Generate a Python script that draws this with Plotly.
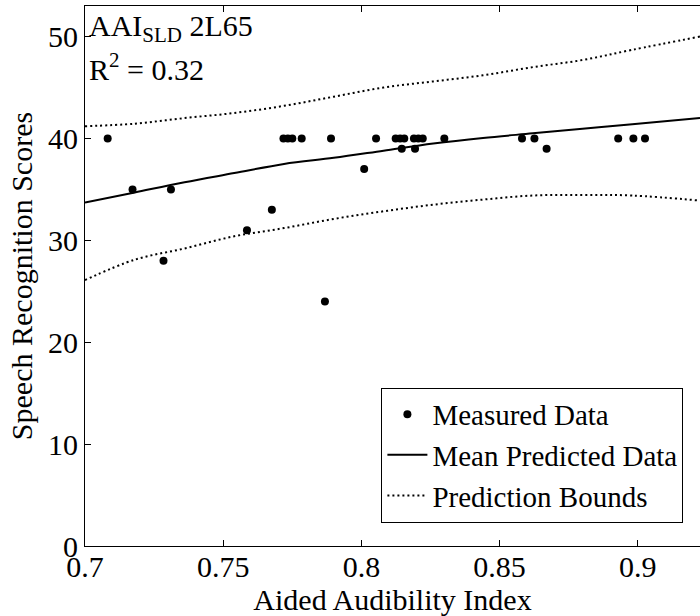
import plotly.graph_objects as go

# Measured speech recognition scores vs aided audibility index
aai = [0.7082, 0.7172, 0.7284, 0.7311, 0.7586, 0.7676,
       0.7718, 0.7734, 0.7750, 0.7784, 0.7868, 0.7890,
       0.8010, 0.8053, 0.8124, 0.8140, 0.8155, 0.8146,
       0.8190, 0.8206, 0.8222, 0.8194, 0.8300, 0.8581,
       0.8626, 0.8670, 0.8929, 0.8984, 0.9026]
scores = [40, 35, 28, 35, 31, 33,
          40, 40, 40, 40, 24, 40,
          37, 40, 40, 40, 40, 39,
          40, 40, 40, 39, 40, 40,
          40, 39, 40, 40, 40]

# Fitted curve and prediction bounds
fit_x = [0.700, 0.718, 0.736, 0.754, 0.772, 0.790, 0.808,
         0.826, 0.844, 0.862, 0.880, 0.898, 0.9225]
fit_mean = [33.7, 34.7, 35.7, 36.6, 37.5, 38.1, 38.8,
            39.5, 40.05, 40.5, 40.95, 41.4, 42.0]
fit_upper = [41.2, 41.45, 42.0, 42.5, 43.2, 44.1, 45.0,
             45.6, 46.2, 47.0, 47.7, 48.7, 50.0]
fit_lower = [26.1, 28.1, 29.2, 30.4, 31.2, 32.1, 32.85,
             33.5, 34.0, 34.4, 34.45, 34.4, 33.9]

x_ticks = [0.7, 0.75, 0.8, 0.85, 0.9]
x_tick_text = ["0.7", "0.75", "0.8", "0.85", "0.9"]
y_ticks = [0, 10, 20, 30, 40, 50]

FONT = "Liberation Serif, Times New Roman, serif"
FS = 30

fig = go.Figure()
fig.add_trace(go.Scatter(
    x=aai, y=scores, mode="markers", name="Measured Data",
    marker=dict(color="black", size=8),
))
fig.add_trace(go.Scatter(
    x=fit_x, y=fit_mean, mode="lines", name="Mean Predicted Data",
    line=dict(color="black", width=2), line_shape="spline",
))
fig.add_trace(go.Scatter(
    x=fit_x, y=fit_upper, mode="lines", name="Prediction Bounds",
    line=dict(color="black", width=2, dash="2px,3px"), line_shape="spline",
))
fig.add_trace(go.Scatter(
    x=fit_x, y=fit_lower, mode="lines", name="Prediction Bounds",
    line=dict(color="black", width=2, dash="2px,3px"), line_shape="spline",
    showlegend=False,
))

fig.add_annotation(
    xref="paper", yref="paper", x=0, y=1, xanchor="left", yanchor="top",
    xshift=2, yshift=-1, showarrow=False,
    text="AAI<sub>SLD</sub> 2L65", font=dict(family=FONT, size=FS, color="black"),
)
fig.add_annotation(
    xref="paper", yref="paper", x=0, y=1, xanchor="left", yanchor="top",
    xshift=2, yshift=-40, showarrow=False,
    text="R<sup>2</sup> = 0.32", font=dict(family=FONT, size=FS, color="black"),
)

fig.update_layout(
    width=700, height=616,
    margin=dict(l=85, r=0, t=6, b=70),
    paper_bgcolor="white", plot_bgcolor="white",
    font=dict(family=FONT, size=FS, color="black"),
    showlegend=True,
    legend=dict(
        x=0.973, y=0.043, xanchor="right", yanchor="bottom",
        bgcolor="white", bordercolor="black", borderwidth=1,
        font=dict(family=FONT, size=29, color="black"),
        tracegroupgap=0, itemwidth=40,
    ),
    xaxis=dict(
        range=[0.7, 0.9225], tickvals=x_ticks, ticktext=x_tick_text,
        ticks="inside", ticklen=6, tickcolor="black",
        ticklabelstandoff=-6,
        showline=True, linecolor="black", linewidth=1, mirror="ticks",
        showgrid=False, zeroline=False,
        title=dict(text="Aided Audibility Index", standoff=6,
                   font=dict(family=FONT, size=FS)),
    ),
    yaxis=dict(
        range=[0, 53], tickvals=y_ticks,
        ticks="inside", ticklen=6, tickcolor="black",
        showline=True, linecolor="black", linewidth=1, mirror=False,
        showgrid=False, zeroline=False,
        title=dict(text="Speech Recognition Scores", standoff=6,
                   font=dict(family=FONT, size=FS)),
    ),
)

fig.write_html("out.html")
